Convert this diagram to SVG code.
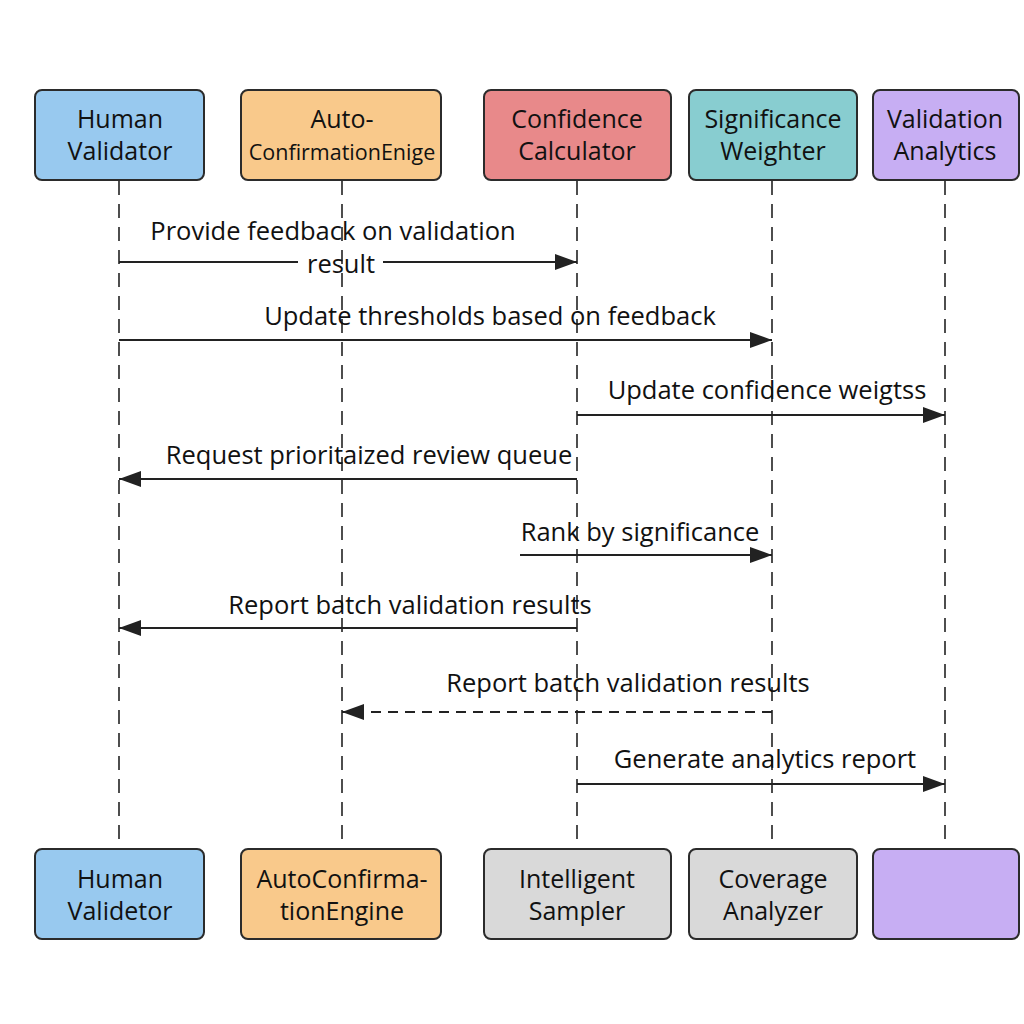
<svg xmlns="http://www.w3.org/2000/svg" width="1024" height="1024" viewBox="0 0 1024 1024">
<defs>
<marker id="ah2" viewBox="0 0 22 16" refX="22" refY="8" markerWidth="22" markerHeight="16" markerUnits="userSpaceOnUse" orient="auto">
<path d="M0,0 L22,8 L0,16 z" fill="#222"/>
</marker>
</defs>
<style>
.box{stroke:#2b2b2b;stroke-width:2}
.blue{fill:#98c9ef}.orange{fill:#f9c98b}.red{fill:#e8898a}.teal{fill:#88cdd0}.purple{fill:#c7aef3}.gray{fill:#d9d9d9}
.t{font-family:"Open Sans","Noto Sans",sans-serif;font-size:25px;fill:#111;text-anchor:middle}
.ts{font-family:"Open Sans","Noto Sans",sans-serif;font-size:21.5px;fill:#111;text-anchor:middle}
.life{stroke:#222;stroke-width:1.6;stroke-dasharray:14,9;fill:none}
.msg{stroke:#222;stroke-width:2;fill:none;marker-end:url(#ah2)}
.dash{stroke-dasharray:10,7}
.lbl{font-family:"Open Sans","Noto Sans",sans-serif;font-size:25.5px;fill:#111;text-anchor:middle}
</style>
<rect width="1024" height="1024" fill="#ffffff"/>
<g id="lifelines">
<line class="life" x1="119" y1="181" x2="119" y2="848"/>
<line class="life" x1="342" y1="181" x2="342" y2="848"/>
<line class="life" x1="577" y1="181" x2="577" y2="848"/>
<line class="life" x1="772" y1="181" x2="772" y2="848"/>
<line class="life" x1="945" y1="181" x2="945" y2="848"/>
</g>
<g id="human-validator-top"><rect class="box blue" x="35" y="90" width="169" height="90" rx="7"/><text class="t" x="120" y="128">Human</text><text class="t" x="120" y="160">Validator</text></g>
<g id="auto-confirmation-top"><rect class="box orange" x="241" y="90" width="200" height="90" rx="7"/><text class="t" x="342" y="128">Auto-</text><text class="ts" x="342" y="160">ConfirmationEnige</text></g>
<g id="confidence-calculator"><rect class="box red" x="484" y="90" width="187" height="90" rx="7"/><text class="t" x="577" y="128">Confidence</text><text class="t" x="577" y="160">Calculator</text></g>
<g id="significance-weighter"><rect class="box teal" x="689" y="90" width="168" height="90" rx="7"/><text class="t" x="773" y="128">Significance</text><text class="t" x="773" y="160">Weighter</text></g>
<g id="validation-analytics-top"><rect class="box purple" x="873" y="90" width="146" height="90" rx="7"/><text class="t" x="945" y="128">Validation</text><text class="t" x="945" y="160">Analytics</text></g>
<g id="human-validator-bottom"><rect class="box blue" x="35" y="849" width="169" height="90" rx="7"/><text class="t" x="120" y="888">Human</text><text class="t" x="120" y="920">Validetor</text></g>
<g id="auto-confirmation-bottom"><rect class="box orange" x="241" y="849" width="200" height="90" rx="7"/><text class="t" x="342" y="888">AutoConfirma-</text><text class="t" x="342" y="920">tionEngine</text></g>
<g id="intelligent-sampler"><rect class="box gray" x="484" y="849" width="187" height="90" rx="7"/><text class="t" x="577" y="888">Intelligent</text><text class="t" x="577" y="920">Sampler</text></g>
<g id="coverage-analyzer"><rect class="box gray" x="689" y="849" width="168" height="90" rx="7"/><text class="t" x="773" y="888">Coverage</text><text class="t" x="773" y="920">Analyzer</text></g>
<g id="validation-analytics-bottom"><rect class="box purple" x="873" y="849" width="146" height="90" rx="7"/></g>
<g id="connectors">
<line x1="119" y1="262" x2="298" y2="262" stroke="#222" stroke-width="2"/>
<line class="msg" x1="383" y1="262" x2="577" y2="262"/>
<line class="msg" x1="119" y1="340" x2="772" y2="340"/>
<line class="msg" x1="577" y1="415" x2="945" y2="415"/>
<line class="msg" x1="577" y1="479" x2="119" y2="479"/>
<line class="msg" x1="520" y1="555" x2="772" y2="555"/>
<line class="msg" x1="577" y1="628" x2="119" y2="628"/>
<line class="msg dash" x1="772" y1="712" x2="342" y2="712"/>
<line class="msg" x1="577" y1="784" x2="945" y2="784"/>
</g>
<g id="labels">
<text class="lbl" x="333" y="240">Provide feedback on validation</text>
<text class="lbl" x="341" y="273">result</text>
<text class="lbl" x="490" y="325">Update thresholds based on feedback</text>
<text class="lbl" x="767" y="399">Update confidence weigtss</text>
<text class="lbl" x="369" y="464">Request prioritaized review queue</text>
<text class="lbl" x="640" y="541">Rank by significance</text>
<text class="lbl" x="410" y="614">Report batch validation results</text>
<text class="lbl" x="628" y="692">Report batch validation results</text>
<text class="lbl" x="765" y="768">Generate analytics report</text>
</g>
</svg>
